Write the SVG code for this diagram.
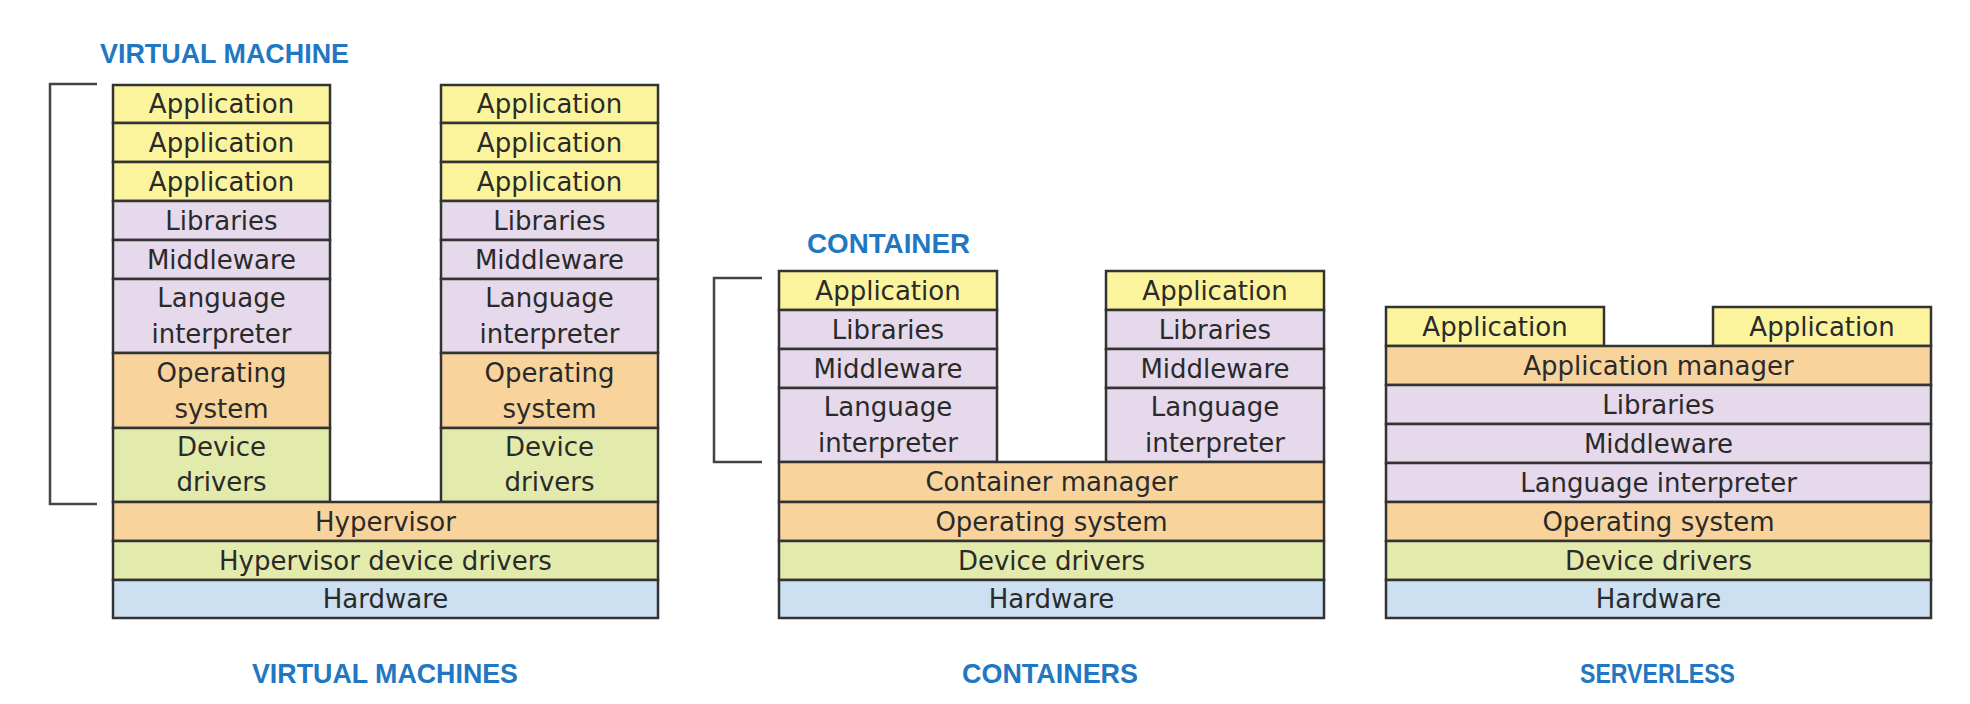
<svg xmlns="http://www.w3.org/2000/svg" width="1970" height="704" viewBox="0 0 1970 704">
<style>
.r{stroke:#333;stroke-width:2.5}
.app{fill:#fcf49c}
.lav{fill:#e5d9eb}
.org{fill:#f8d49c}
.grn{fill:#e3ebac}
.blu{fill:#cde0f2}
.t{font-family:"DejaVu Sans","Liberation Sans",sans-serif;font-size:26px;fill:#2a2a2a;text-anchor:middle}
.h{font-family:"Liberation Sans",Arial,sans-serif;font-weight:bold;font-size:28px;fill:#2277c3}
.br{fill:none;stroke:#444;stroke-width:2.5}
</style>
<rect width="1970" height="704" fill="#fff"/>

<!-- Titles -->
<text class="h" x="100" y="63" textLength="249" lengthAdjust="spacingAndGlyphs">VIRTUAL MACHINE</text>
<text class="h" x="807" y="253" textLength="163" lengthAdjust="spacingAndGlyphs">CONTAINER</text>
<text class="h" x="252" y="683" textLength="266" lengthAdjust="spacingAndGlyphs">VIRTUAL MACHINES</text>
<text class="h" x="962" y="683" textLength="176" lengthAdjust="spacingAndGlyphs">CONTAINERS</text>
<text class="h" x="1580" y="683" textLength="155" lengthAdjust="spacingAndGlyphs">SERVERLESS</text>

<!-- Brackets -->
<g id="connectors">
<path class="br" d="M97,84 H50 V504 H97"/>
<path class="br" d="M762,278 H714 V462 H762"/>
</g>

<!-- VIRTUAL MACHINES: left stack -->
<g id="vm1-app1"><rect class="r app" x="113" y="85" width="217" height="38"/><text class="t" x="221.5" y="113">Application</text></g>
<g id="vm1-app2"><rect class="r app" x="113" y="123" width="217" height="39"/><text class="t" x="221.5" y="151.5">Application</text></g>
<g id="vm1-app3"><rect class="r app" x="113" y="162" width="217" height="39"/><text class="t" x="221.5" y="190.5">Application</text></g>
<g id="vm1-lib"><rect class="r lav" x="113" y="201" width="217" height="39"/><text class="t" x="221.5" y="229.5">Libraries</text></g>
<g id="vm1-mid"><rect class="r lav" x="113" y="240" width="217" height="39"/><text class="t" x="221.5" y="268.5">Middleware</text></g>
<g id="vm1-lang"><rect class="r lav" x="113" y="279" width="217" height="74"/><text class="t" x="221.5" y="307">Language</text><text class="t" x="221.5" y="343">interpreter</text></g>
<g id="vm1-os"><rect class="r org" x="113" y="353" width="217" height="75"/><text class="t" x="221.5" y="382">Operating</text><text class="t" x="221.5" y="418">system</text></g>
<g id="vm1-dd"><rect class="r grn" x="113" y="428" width="217" height="74"/><text class="t" x="221.5" y="456">Device</text><text class="t" x="221.5" y="491">drivers</text></g>

<!-- VIRTUAL MACHINES: right stack -->
<g id="vm2-app1"><rect class="r app" x="441" y="85" width="217" height="38"/><text class="t" x="549.5" y="113">Application</text></g>
<g id="vm2-app2"><rect class="r app" x="441" y="123" width="217" height="39"/><text class="t" x="549.5" y="151.5">Application</text></g>
<g id="vm2-app3"><rect class="r app" x="441" y="162" width="217" height="39"/><text class="t" x="549.5" y="190.5">Application</text></g>
<g id="vm2-lib"><rect class="r lav" x="441" y="201" width="217" height="39"/><text class="t" x="549.5" y="229.5">Libraries</text></g>
<g id="vm2-mid"><rect class="r lav" x="441" y="240" width="217" height="39"/><text class="t" x="549.5" y="268.5">Middleware</text></g>
<g id="vm2-lang"><rect class="r lav" x="441" y="279" width="217" height="74"/><text class="t" x="549.5" y="307">Language</text><text class="t" x="549.5" y="343">interpreter</text></g>
<g id="vm2-os"><rect class="r org" x="441" y="353" width="217" height="75"/><text class="t" x="549.5" y="382">Operating</text><text class="t" x="549.5" y="418">system</text></g>
<g id="vm2-dd"><rect class="r grn" x="441" y="428" width="217" height="74"/><text class="t" x="549.5" y="456">Device</text><text class="t" x="549.5" y="491">drivers</text></g>

<!-- VIRTUAL MACHINES: shared -->
<g id="vm-hyp"><rect class="r org" x="113" y="502" width="545" height="39"/><text class="t" x="385.5" y="530.5">Hypervisor</text></g>
<g id="vm-hdd"><rect class="r grn" x="113" y="541" width="545" height="39"/><text class="t" x="385.5" y="569.5">Hypervisor device drivers</text></g>
<g id="vm-hw"><rect class="r blu" x="113" y="580" width="545" height="38"/><text class="t" x="385.5" y="608">Hardware</text></g>

<!-- CONTAINERS: left stack -->
<g id="c1-app"><rect class="r app" x="779" y="271" width="218" height="39"/><text class="t" x="888" y="299.5">Application</text></g>
<g id="c1-lib"><rect class="r lav" x="779" y="310" width="218" height="39"/><text class="t" x="888" y="338.5">Libraries</text></g>
<g id="c1-mid"><rect class="r lav" x="779" y="349" width="218" height="39"/><text class="t" x="888" y="377.5">Middleware</text></g>
<g id="c1-lang"><rect class="r lav" x="779" y="388" width="218" height="74"/><text class="t" x="888" y="416">Language</text><text class="t" x="888" y="452">interpreter</text></g>

<!-- CONTAINERS: right stack -->
<g id="c2-app"><rect class="r app" x="1106" y="271" width="218" height="39"/><text class="t" x="1215" y="299.5">Application</text></g>
<g id="c2-lib"><rect class="r lav" x="1106" y="310" width="218" height="39"/><text class="t" x="1215" y="338.5">Libraries</text></g>
<g id="c2-mid"><rect class="r lav" x="1106" y="349" width="218" height="39"/><text class="t" x="1215" y="377.5">Middleware</text></g>
<g id="c2-lang"><rect class="r lav" x="1106" y="388" width="218" height="74"/><text class="t" x="1215" y="416">Language</text><text class="t" x="1215" y="452">interpreter</text></g>

<!-- CONTAINERS: shared -->
<g id="c-cm"><rect class="r org" x="779" y="462" width="545" height="40"/><text class="t" x="1051.5" y="491">Container manager</text></g>
<g id="c-os"><rect class="r org" x="779" y="502" width="545" height="39"/><text class="t" x="1051.5" y="530.5">Operating system</text></g>
<g id="c-dd"><rect class="r grn" x="779" y="541" width="545" height="39"/><text class="t" x="1051.5" y="569.5">Device drivers</text></g>
<g id="c-hw"><rect class="r blu" x="779" y="580" width="545" height="38"/><text class="t" x="1051.5" y="608">Hardware</text></g>

<!-- SERVERLESS -->
<g id="s-app1"><rect class="r app" x="1386" y="307" width="218" height="39"/><text class="t" x="1495" y="335.5">Application</text></g>
<g id="s-app2"><rect class="r app" x="1713" y="307" width="218" height="39"/><text class="t" x="1822" y="335.5">Application</text></g>
<g id="s-am"><rect class="r org" x="1386" y="346" width="545" height="39"/><text class="t" x="1658.5" y="374.5">Application manager</text></g>
<g id="s-lib"><rect class="r lav" x="1386" y="385" width="545" height="39"/><text class="t" x="1658.5" y="413.5">Libraries</text></g>
<g id="s-mid"><rect class="r lav" x="1386" y="424" width="545" height="39"/><text class="t" x="1658.5" y="452.5">Middleware</text></g>
<g id="s-lang"><rect class="r lav" x="1386" y="463" width="545" height="39"/><text class="t" x="1658.5" y="491.5">Language interpreter</text></g>
<g id="s-os"><rect class="r org" x="1386" y="502" width="545" height="39"/><text class="t" x="1658.5" y="530.5">Operating system</text></g>
<g id="s-dd"><rect class="r grn" x="1386" y="541" width="545" height="39"/><text class="t" x="1658.5" y="569.5">Device drivers</text></g>
<g id="s-hw"><rect class="r blu" x="1386" y="580" width="545" height="38"/><text class="t" x="1658.5" y="608">Hardware</text></g>
</svg>
